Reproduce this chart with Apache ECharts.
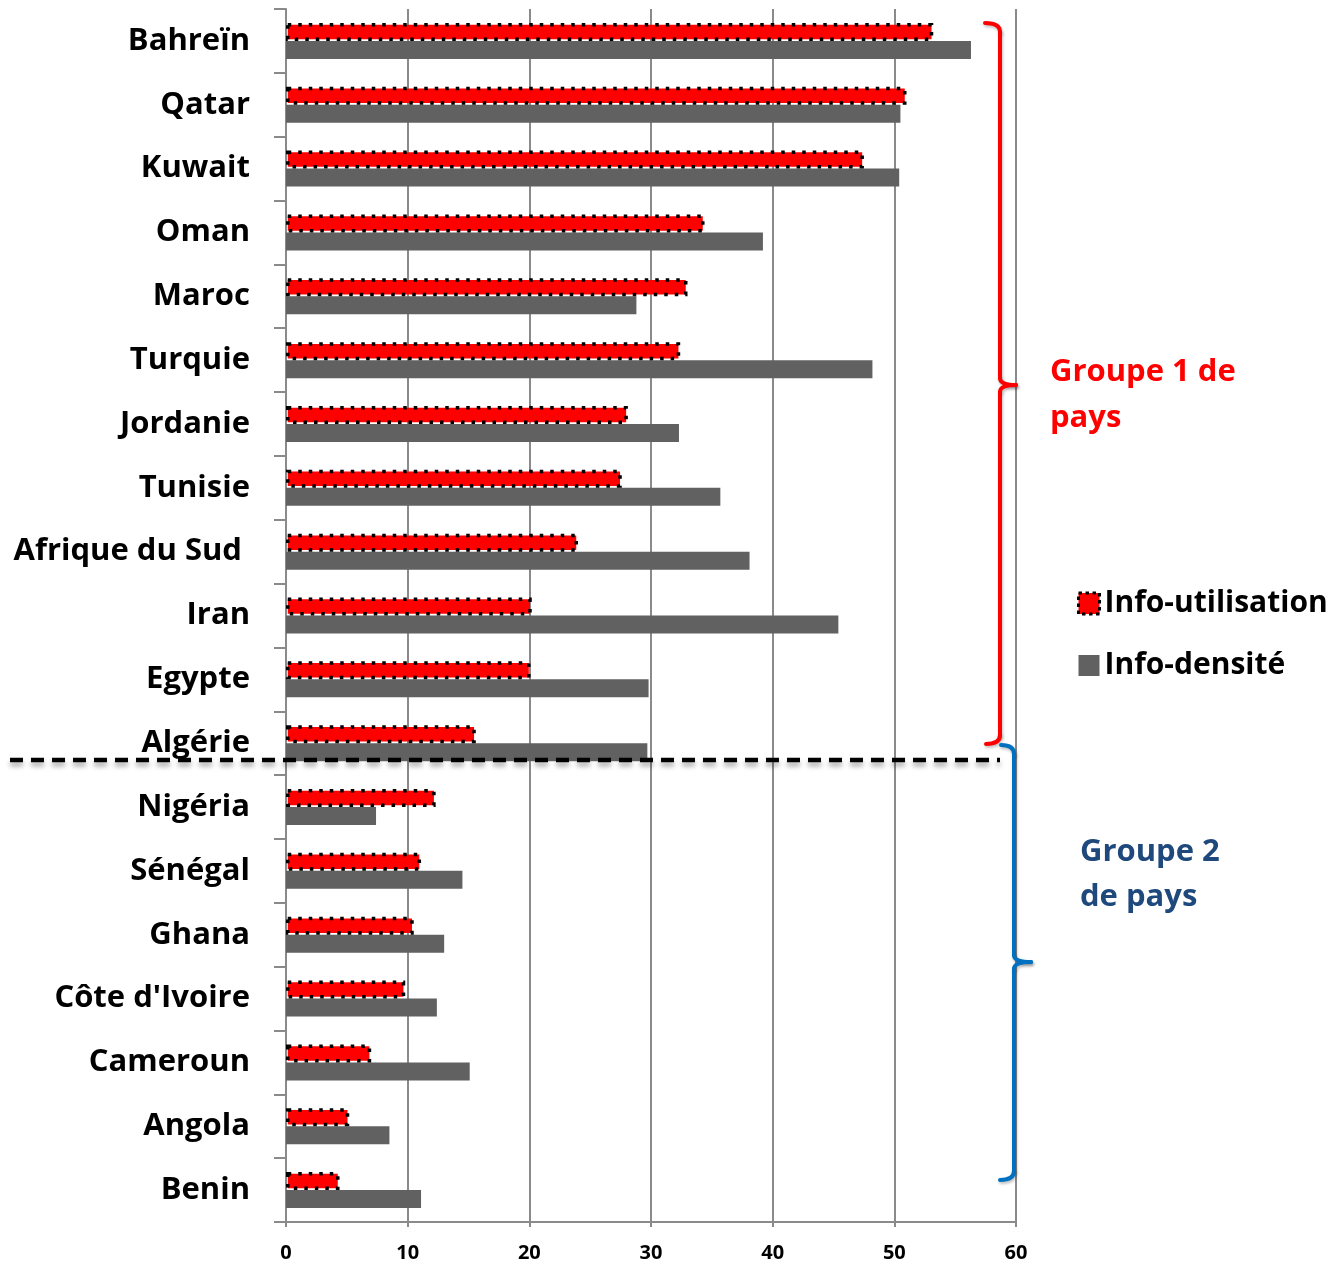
<!DOCTYPE html>
<html>
<head>
<meta charset="utf-8">
<script src="https://cdn.jsdelivr.net/npm/echarts@6/dist/echarts.min.js"></script>
<style>
html,body{margin:0;padding:0;background:#fff;}
#chart{width:1341px;height:1265px;}
</style>
</head>
<body>
<div id="chart"></div>
<script>
const categories = ["Bahreïn","Qatar","Kuwait","Oman","Maroc","Turquie","Jordanie","Tunisie","Afrique du Sud ","Iran","Egypte","Algérie","Nigéria","Sénégal","Ghana","Côte d'Ivoire","Cameroun","Angola","Benin"];
const infoUtilisation = [53.2,51.0,47.5,34.4,33.0,32.4,28.1,27.6,24.0,20.2,20.1,15.6,12.3,11.1,10.5,9.8,7.0,5.2,4.4];
const infoDensite = [56.3,50.5,50.4,39.2,28.8,48.2,32.3,35.7,38.1,45.4,29.8,29.7,7.4,14.5,13.0,12.4,15.1,8.5,11.1];
const xTicks = [0,10,20,30,40,50,60];
const groupLabels = ["Groupe 1 de\npays","Groupe 2\nde pays"];
const seriesNames = ["Info-utilisation","Info-densité"];

const FONT = "'Open Sans', 'Liberation Sans', sans-serif";
const chart = echarts.init(document.getElementById('chart'), null, {renderer:'canvas'});
const gridColor = '#8a8a8a';

function bracketPieces(color, segs){
  const st = {stroke:color, lineWidth:4, fill:null, lineCap:'round', shadowBlur:3, shadowOffsetX:1, shadowOffsetY:2, shadowColor:'rgba(0,0,0,0.25)'};
  return segs.map(s => s.length === 4
    ? {type:'line', z:50, shape:{x1:s[0],y1:s[1],x2:s[2],y2:s[3]}, style:st}
    : {type:'bezierCurve', z:50, shape:{x1:s[0],y1:s[1],cpx1:s[2],cpy1:s[3],x2:s[4],y2:s[5]}, style:st});
}

const redBracket = bracketPieces('#ff0000', [
  [985,23, 1000,23, 1000,32],
  [1000,32, 1000,378],
  [1000,378, 1000,385, 1016,385],
  [1016,385, 1000,385, 1000,392],
  [1000,392, 1000,735],
  [1000,735, 1000,744, 986,744]
]);
const blueBracket = bracketPieces('#0070c0', [
  [1001,745, 1014,745, 1014,754],
  [1014,754, 1014,955],
  [1014,955, 1014,962, 1031,962],
  [1031,962, 1014,962, 1014,969],
  [1014,969, 1014,1171],
  [1014,1171, 1014,1180, 1000,1180]
]);

chart.setOption({
  animation:false,
  backgroundColor:'#ffffff',
  grid:{left:286, top:9, width:730, height:1213},
  legend:{
    orient:'vertical', left:1072, top:583,
    itemWidth:21, itemHeight:21, itemGap:31,
    textStyle:{fontFamily:FONT, fontWeight:'bold', fontSize:30, color:'#000', lineHeight:31},
    data:[
      {name:seriesNames[0], icon:'rect', itemStyle:{color:'#ff0000', borderColor:'#000', borderWidth:3, borderType:[3.5,3.5]}},
      {name:seriesNames[1], icon:'rect', itemStyle:{color:'#616161'}}
    ]
  },
  xAxis:{
    type:'value', min:xTicks[0], max:xTicks[xTicks.length-1], interval:10,
    axisLine:{show:true, lineStyle:{color:gridColor, width:2}},
    axisTick:{show:true, length:5, lineStyle:{color:gridColor, width:2}},
    splitLine:{show:true, lineStyle:{color:gridColor, width:2}},
    axisLabel:{fontFamily:FONT, fontWeight:'bold', fontSize:20, color:'#000', margin:21}
  },
  yAxis:{
    type:'category', inverse:true, data:categories,
    axisLine:{show:true, lineStyle:{color:gridColor, width:2}},
    axisTick:{show:true, length:12, lineStyle:{color:gridColor, width:2}},
    axisLabel:{fontFamily:FONT, fontWeight:'bold', fontSize:31, color:'#000', margin:36, padding:[7,0,0,0]}
  },
  series:[
    {name:seriesNames[0], type:'bar', data:infoUtilisation, barWidth:18, barGap:'0%', z:3,
     itemStyle:{color:'#ff0000', borderColor:'#000', borderWidth:3.5, borderType:[3.5,7]}},
    {name:seriesNames[1], type:'bar', data:infoDensite, barWidth:18, barGap:'0%', z:2,
     itemStyle:{color:'#616161'}}
  ],
  graphic:[
    {type:'line', z:50, shape:{x1:10,y1:760,x2:1000,y2:760},
     style:{stroke:'#000', lineWidth:4.5, lineDash:[13,8], shadowBlur:5, shadowOffsetY:4, shadowColor:'rgba(0,0,0,0.35)'}},
    ...redBracket,
    ...blueBracket,
    {type:'text', z:50, left:1050, top:349,
     style:{text:groupLabels[0], fill:'#ff0000', font:'bold 31px '+FONT, lineHeight:46}},
    {type:'text', z:50, left:1080, top:830,
     style:{text:groupLabels[1], fill:'#1f497d', font:'bold 31px '+FONT, lineHeight:45}}
  ]
});
</script>
</body>
</html>
